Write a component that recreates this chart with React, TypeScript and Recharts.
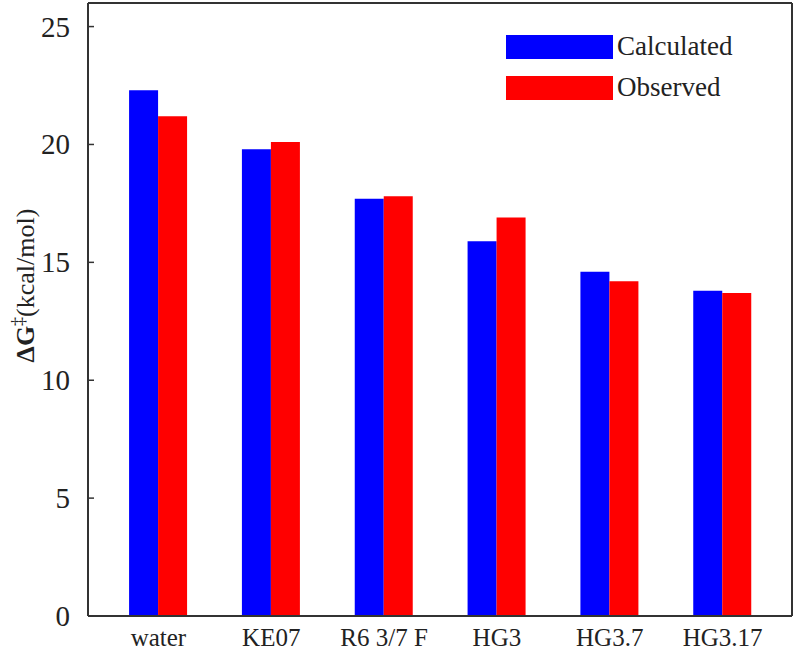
import { BarChart, Bar, XAxis, YAxis, Legend } from "recharts";

const categories = ["water", "KE07", "R6 3/7 F", "HG3", "HG3.7", "HG3.17"];
const calculated = [22.3, 19.8, 17.7, 15.9, 14.6, 13.8];
const observed = [21.2, 20.1, 17.8, 16.9, 14.2, 13.7];
const yTicks = [0, 5, 10, 15, 20, 25];

const data = categories.map((name, i) => ({
  name,
  Calculated: calculated[i],
  Observed: observed[i],
}));

const FONT = '"Liberation Serif", "Times New Roman", serif';
const INK = "#333";

function YTick(props: any) {
  const { x, y, payload } = props;
  return (
    <g>
      <line x1={x + 18} x2={x + 24} y1={y} y2={y} stroke={INK} strokeWidth={1.5} />
      <text x={x} y={y} dy={10} textAnchor="end" style={{ fontSize: 29, fontFamily: FONT }} fill="#222">
        {payload.value}
      </text>
    </g>
  );
}

function XTick(props: any) {
  const { x, y, payload } = props;
  return (
    <text x={x} y={y} dy={22} textAnchor="middle" style={{ fontSize: 25, fontFamily: FONT }} fill="#222">
      {payload.value}
    </text>
  );
}

function YLabel(props: any) {
  const vb = props.viewBox;
  const cy = vb.y + vb.height / 2 - 24;
  const cx = 34;
  return (
    <text
      x={cx}
      y={cy}
      transform={`rotate(-90, ${cx}, ${cy})`}
      textAnchor="middle"
      style={{ fontFamily: FONT, fontSize: 26 }}
      fill="#222"
    >
      <tspan fontWeight="bold">ΔG</tspan>
      <tspan fontSize={18} dy={-10}>‡</tspan>
      <tspan dy={10}>(kcal/mol)</tspan>
    </text>
  );
}

function LegendBox(props: any) {
  const items = props.payload || [];
  return (
    <div style={{ fontFamily: FONT }}>
      {items.map((it: any) => (
        <div key={it.value} style={{ display: "flex", alignItems: "center", height: 41 }}>
          <div style={{ width: 107, height: 24, background: it.color }} />
          <span style={{ fontSize: 27, color: "#222", marginLeft: 4 }}>{it.value}</span>
        </div>
      ))}
    </div>
  );
}

export default function App() {
  return (
    <div style={{ position: "absolute", left: 0, top: 0, background: "#fff", fontFamily: FONT }}>
      <BarChart
        width={800}
        height={653}
        data={data}
        margin={{ top: 2, right: 4, bottom: 0, left: 0 }}
        barCategoryGap="24%"
        barGap={0}
      >
        <XAxis
          dataKey="name"
          height={37}
          padding={{ left: 14, right: 13 }}
          tickLine={false}
          axisLine={{ stroke: INK, strokeWidth: 2 }}
          tick={<XTick />}
        />
        <XAxis
          xAxisId="top"
          orientation="top"
          dataKey="name"
          height={1}
          tick={false}
          tickLine={false}
          axisLine={{ stroke: INK, strokeWidth: 2 }}
        />
        <YAxis
          yAxisId="left"
          width={88}
          domain={[0, 26]}
          ticks={yTicks}
          tickSize={0}
          tickMargin={18}
          axisLine={{ stroke: INK, strokeWidth: 2 }}
          tick={<YTick />}
          label={{ content: <YLabel /> }}
        />
        <YAxis
          yAxisId="right"
          orientation="right"
          width={4}
          domain={[0, 26]}
          tick={false}
          tickLine={false}
          axisLine={{ stroke: INK, strokeWidth: 2 }}
        />
        <Legend
          content={<LegendBox />}
          layout="horizontal"
          verticalAlign="middle"
          wrapperStyle={{ position: "absolute", top: 26, left: 506, width: 260 }}
        />
        <Bar yAxisId="left" dataKey="Calculated" fill="#0000ff" isAnimationActive={false} />
        <Bar yAxisId="left" dataKey="Observed" fill="#ff0000" isAnimationActive={false} />
      </BarChart>
    </div>
  );
}
